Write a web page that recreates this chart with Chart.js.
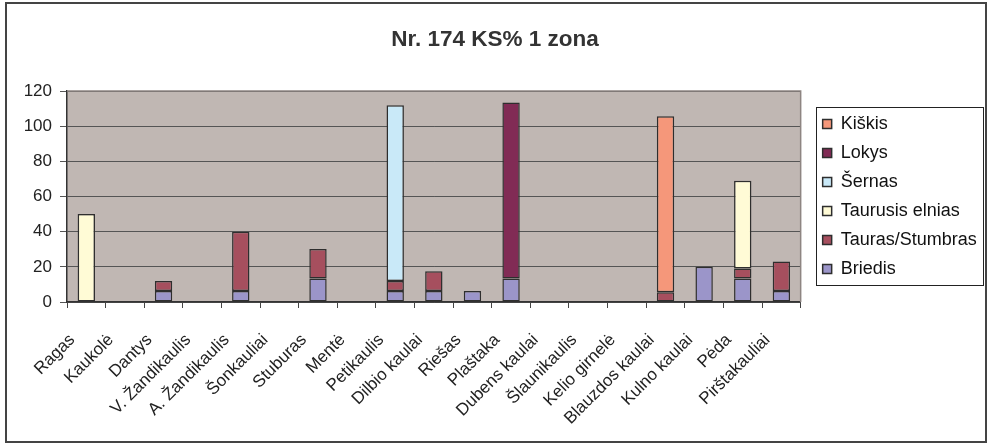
<!DOCTYPE html>
<html>
<head>
<meta charset="utf-8">
<script src="https://cdn.jsdelivr.net/npm/chart.js@4.4.0/dist/chart.umd.min.js"></script>
<style>
  body { margin: 0; background: #fff; }
</style>
</head>
<body>
<canvas id="myChart" width="990" height="444"></canvas>
<script>
// kategorijos (kaulai)
const categories = ['Ragas', 'Kaukolė', 'Dantys', 'V. Žandikaulis', 'A. Žandikaulis', 'Šonkauliai',
  'Stuburas', 'Mentė', 'Petikaulis', 'Dilbio kaulai', 'Riešas', 'Plaštaka', 'Dubens kaulai',
  'Šlaunikaulis', 'Kelio girnelė', 'Blauzdos kaulai', 'Kulno kaulai', 'Pėda', 'Pirštakauliai']

// serijos, nuo apacios
const briedis = [null, null, 6.3, null, 6.3, null, 13.4, null, 6.3, 6.3, 6.3, 13.4, null, null, null, null, 20, 13.4, 6.3]
const tauras = [null, null, 5.6, null, 33.6, null, 16.7, null, 5.6, 11.2, null, null, null, null, null, 5.6, null, 5.6, 16.8]
const taurusisElnias = [50, null, null, null, null, null, null, null, null, null, null, null, null, null, null, null, null, 50, null]
const sernas = [null, null, null, null, null, null, null, null, 100, null, null, null, null, null, null, null, null, null, null]
const lokys = [null, null, null, null, null, null, null, null, null, null, null, 100, null, null, null, null, null, null, null]
const kiskis = [null, null, null, null, null, null, null, null, null, null, null, null, null, null, null, 100, null, null, null]

const yTicks = [0, 20, 40, 60, 80, 100, 120]

const FONT = "'Liberation Sans', Arial, sans-serif"
const border = '#2e2e2e'

// fonas, remelis ir legendos remelis
const framePlugin = {
  id: 'frame',
  afterLayout(chart) {
    // kad legendos tekstas nebutu nukirptas
    chart.legend.right = chart.width
    chart.legend.width = chart.legend.right - chart.legend.left
  },
  beforeDraw(chart) {
    const { ctx, chartArea } = chart
    ctx.save()
    ctx.fillStyle = '#fff'
    ctx.fillRect(0, 0, chart.width, chart.height)
    ctx.fillStyle = '#c0b7b3'
    ctx.fillRect(chartArea.left, chartArea.top, chartArea.right - chartArea.left, chartArea.bottom - chartArea.top)
    ctx.restore()
  },
  afterDraw(chart) {
    const { ctx, chartArea } = chart
    ctx.save()
    // plot border top/right
    ctx.strokeStyle = '#8e8582'
    ctx.lineWidth = 1.5
    ctx.beginPath()
    ctx.moveTo(chartArea.left, chartArea.top)
    ctx.lineTo(chartArea.right, chartArea.top)
    ctx.lineTo(chartArea.right, chartArea.bottom)
    ctx.stroke()
    // outer frame
    ctx.strokeStyle = '#444'
    ctx.lineWidth = 2
    ctx.strokeRect(6, 3, chart.width - 10, chart.height - 5)
    // legend box
    const hb = chart.legend.legendHitBoxes
    if (hb && hb.length) {
      const x0 = Math.min(...hb.map(h => h.left)) - 7
      const x1 = Math.max(...hb.map(h => h.left + h.width)) + 6
      const y0 = Math.min(...hb.map(h => h.top)) - 8
      const y1 = Math.max(...hb.map(h => h.top + h.height)) + 7
      ctx.strokeStyle = '#222'
      ctx.lineWidth = 1
      ctx.strokeRect(Math.round(x0) + 0.5, Math.round(y0) + 0.5, Math.round(x1 - x0), Math.round(y1 - y0))
    }
    ctx.restore()
  }
}

const ctx = document.getElementById('myChart').getContext('2d')
const myChart = new Chart(ctx, {
  type: 'bar',
  data: {
    labels: categories,
    datasets: [
      { label: 'Briedis', data: briedis, backgroundColor: '#9b95c9' },
      { label: 'Tauras/Stumbras', data: tauras, backgroundColor: '#a64f5e' },
      { label: 'Taurusis elnias', data: taurusisElnias, backgroundColor: '#fffbd6' },
      { label: 'Šernas', data: sernas, backgroundColor: '#c9e9f8' },
      { label: 'Lokys', data: lokys, backgroundColor: '#812b55' },
      { label: 'Kiškis', data: kiskis, backgroundColor: '#f5977a' }
    ].map(d => Object.assign(d, {
      borderColor: border,
      borderWidth: 1.5,
      borderSkipped: false,
      categoryPercentage: 1,
      barPercentage: 0.45
    }))
  },
  options: {
    responsive: false,
    animation: false,
    layout: { padding: { left: 20, right: 20, top: 0, bottom: 0 } },
    plugins: {
      title: {
        display: true,
        text: 'Nr. 174 KS% 1 zona',
        color: '#333',
        font: { family: FONT, size: 22.5, weight: 'bold' },
        padding: { top: 26, bottom: 38 }
      },
      legend: {
        position: 'right',
        fullSize: false,
        reverse: true,
        labels: {
          color: '#111',
          font: { family: FONT, size: 18 },
          boxWidth: 9,
          boxHeight: 9,
          padding: 11
        }
      },
      tooltip: { enabled: false }
    },
    scales: {
      x: {
        stacked: true,
        grid: { drawOnChartArea: false, drawTicks: true, tickLength: 6, color: '#444', offset: true },
        border: { color: '#333', width: 1.5 },
        ticks: {
          color: '#222',
          font: { family: FONT, size: 17 },
          maxRotation: 45,
          minRotation: 45,
          autoSkip: false,
          padding: 22,
          labelOffset: -14
        },
        afterFit(scale) { scale.height = 142 }
      },
      y: {
        stacked: true,
        min: 0,
        max: 120,
        afterBuildTicks(scale) { scale.ticks = yTicks.map(v => ({ value: v })) },
        grid: { color: '#555', lineWidth: 1, tickLength: 7 },
        border: { color: '#333', width: 1.5 },
        ticks: { color: '#222', font: { family: FONT, size: 17 }, padding: 8 },
        afterFit(scale) { scale.width = 47 }
      },
      // tarpas tarp grafiko ir legendos
      gap: {
        type: 'linear',
        position: 'right',
        display: true,
        grid: { display: false },
        border: { display: false },
        ticks: { display: false },
        afterFit(scale) { scale.width = 11 }
      }
    }
  },
  plugins: [framePlugin]
})
</script>
</body>
</html>
